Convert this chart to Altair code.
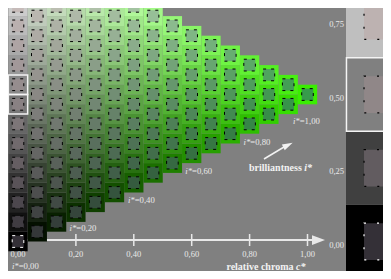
import altair as alt
import pandas as pd

# ---------------- data ----------------
steps = list(range(16))            # chroma / whiteness steps (j/15, k/15)
tick_values = [0.2, 0.4, 0.6, 0.8, 1.0]
tick_labels = ["0,00", "0,20", "0,40", "0,60", "0,80", "1,00"]
tick_label_pos = [0.0, 0.2, 0.4, 0.6, 0.8, 1.0]
swatch_levels = [0.0, 0.25, 0.5, 0.75]
swatch_labels = ["0,00", "0,25", "0,50", "0,75"]
istar_values = ["=0,00", "=0,20", "=0,40", "=0,60", "=0,80", "=1,00"]
istar_c = [0.0024, 0.2014, 0.4031, 0.6010, 0.8024, 0.9731]
istar_L = [-0.0833, 0.0469, 0.1412, 0.2408, 0.3395, 0.4099]
outlined_rows = [7, 8]

# colours of the three corners (outer) and their inner sample colours
WHITE, BLACK, GREEN = (255, 255, 255), (0, 0, 0), (58, 238, 0)
IN_WHITE, IN_BLACK, IN_GREEN = (235, 222, 218), (52, 48, 55), (55, 155, 75)


def mix(w, c, n, W, G, B):
    rgb = [max(0, min(255, round(w * W[i] + c * G[i] + n * B[i]))) for i in range(3)]
    return "#%02x%02x%02x" % tuple(rgb)


cells = []
for j in steps:
    for k in steps[: 16 - j]:
        c = j / 15
        w = k / 15
        n = max(0.0, 1 - c - w)
        L = w + c / 2
        cells.append(dict(
            c=c, L=L,
            c0=c - 1 / 30, c1=c + 1 / 30, L0=L - 1 / 30, L1=L + 1 / 30,
            ic0=c - 0.02, ic1=c + 0.02, iL0=L - 0.02, iL1=L + 0.02,
            outer=mix(w, c, n, WHITE, GREEN, BLACK),
            inner=mix(w, c, n, IN_WHITE, IN_GREEN, IN_BLACK),
            dash="white" if n >= 0.999 else "black",
        ))
cells = pd.DataFrame(cells)

sw = []
for lev, lab in zip(swatch_levels, swatch_labels):
    sw.append(dict(
        L=lev, lab=lab,
        c0=1.1330, c1=1.45, L0=lev - 0.125, L1=lev + 0.125,
        ic0=1.1952, ic1=1.45, iL0=lev - 0.0625, iL1=lev + 0.0625,
        outer=mix(lev, 0, 1 - lev, WHITE, GREEN, BLACK),
        inner=mix(lev, 0, 1 - lev, IN_WHITE, IN_GREEN, IN_BLACK),
        dash="white" if lev == 0 else "black",
    ))
sw = pd.DataFrame(sw)

# ---------------- scales ----------------
W_SVG, H_SVG = 375, 263
xs = alt.Scale(domain=[-10 / 289.5, (W_SVG - 10) / 289.5], nice=False, zero=False)
ys = alt.Scale(domain=[(233.5 - H_SVG) / 294, 233.5 / 294], nice=False, zero=False)


def X(f):
    return alt.X(f, type="quantitative", scale=xs, axis=None)


def Y(f):
    return alt.Y(f, type="quantitative", scale=ys, axis=None)


SERIF = "Liberation Serif"
TXT = "#e8e8e8"

# axis line, ticks, arrow head
axis_df = pd.DataFrame({"c0": [0.0], "c1": [1.03], "L": [0.005]})
axis_line = alt.Chart(axis_df).mark_rule(color=TXT, strokeWidth=2).encode(
    x=X("c0"), x2=alt.X2("c1"), y=Y("L"))
ticks_df = pd.DataFrame({"c": tick_values, "L0": [-0.0153] * 5, "L1": [0.0255] * 5})
ticks = alt.Chart(ticks_df).mark_rule(color=TXT, strokeWidth=1.5).encode(
    x=X("c"), y=Y("L0"), y2=alt.Y2("L1"))
head_df = pd.DataFrame({"c": [1.038], "L": [0.005]})
head = alt.Chart(head_df).mark_point(
    shape="M -1 -0.75 L 1 0 L -1 0.75 Z", filled=True, size=169, color=TXT, opacity=1
).encode(x=X("c"), y=Y("L"))

# cells
outer = alt.Chart(cells).mark_rect(clip=True).encode(
    x=X("c0"), x2=alt.X2("c1"), y=Y("L0"), y2=alt.Y2("L1"),
    color=alt.Color("outer:N", scale=None))
inner = alt.Chart(cells).mark_rect(clip=True, strokeWidth=1, strokeDash=[3, 5]).encode(
    x=X("ic0"), x2=alt.X2("ic1"), y=Y("iL0"), y2=alt.Y2("iL1"),
    color=alt.Color("inner:N", scale=None),
    stroke=alt.Stroke("dash:N", scale=None))

outl_df = pd.DataFrame({"c0": [-1 / 30] * 2, "c1": [1 / 30] * 2,
                        "L0": [r / 15 - 1 / 30 for r in outlined_rows],
                        "L1": [r / 15 + 1 / 30 for r in outlined_rows]})
outl = alt.Chart(outl_df).mark_rect(fill=None, stroke="#f4f4f4", strokeWidth=1.5, clip=True).encode(
    x=X("c0"), x2=alt.X2("c1"), y=Y("L0"), y2=alt.Y2("L1"))

# swatches at the right
sw_outer = alt.Chart(sw).mark_rect(clip=True).encode(
    x=X("c0"), x2=alt.X2("c1"), y=Y("L0"), y2=alt.Y2("L1"),
    color=alt.Color("outer:N", scale=None))
sw_inner = alt.Chart(sw).mark_rect(clip=True, strokeWidth=1.2, strokeDash=[2, 11]).encode(
    x=X("ic0"), x2=alt.X2("ic1"), y=Y("iL0"), y2=alt.Y2("iL1"),
    color=alt.Color("inner:N", scale=None),
    stroke=alt.Stroke("dash:N", scale=None))
sw_box_df = pd.DataFrame({"c0": [1.1346], "c1": [1.45], "L0": [0.375], "L1": [0.625]})
sw_box = alt.Chart(sw_box_df).mark_rect(fill=None, stroke="#f4f4f4", strokeWidth=1.5, clip=True).encode(
    x=X("c0"), x2=alt.X2("c1"), y=Y("L0"), y2=alt.Y2("L1"))
sw_text = alt.Chart(sw).mark_text(align="right", baseline="middle", dy=3, font=SERIF,
                                  fontSize=8.5, color=TXT).encode(
    x=alt.value(336), y=Y("L"), text="lab:N")

# tick labels
tl_df = pd.DataFrame({"c": tick_label_pos, "lab": tick_labels, "L": [-0.0442] * 6})
tick_text = alt.Chart(tl_df).mark_text(align="center", baseline="middle", font=SERIF,
                                       fontSize=8.5, color=TXT).encode(
    x=X("c"), y=Y("L"), text="lab:N")

# i* labels
ist_df = pd.DataFrame({"c": istar_c, "L": istar_L, "v": istar_values, "i": ["i*"] * 6})
ist_i = alt.Chart(ist_df).mark_text(align="right", baseline="middle", font=SERIF, fontSize=8.7,
                                    fontStyle="italic", color=TXT).encode(
    x=X("c"), y=Y("L"), text="i:N")
ist_v = alt.Chart(ist_df).mark_text(align="left", baseline="middle", font=SERIF, fontSize=8.7,
                                    color=TXT).encode(
    x=X("c"), y=Y("L"), text="v:N")

# axis titles
t_df = pd.DataFrame({
    "c": [0.9516, 0.9603, 0.9803, 0.9888],
    "L": [-0.0860, -0.0860, 0.2500, 0.2500],
    "t": ["relative chroma", "c*", "brilliantness", "i*"],
    "a": ["right", "left", "right", "left"],
})
titles_r = alt.Chart(t_df[t_df.a == "right"]).mark_text(
    align="right", baseline="middle", font=SERIF, fontSize=10, fontWeight="bold", color="#f2f2f2"
).encode(x=X("c"), y=Y("L"), text="t:N")
titles_l = alt.Chart(t_df[t_df.a == "left"]).mark_text(
    align="left", baseline="middle", font=SERIF, fontSize=10, fontWeight="bold",
    fontStyle="italic", color="#f2f2f2"
).encode(x=X("c"), y=Y("L"), text="t:N")

# brilliantness arrow
arr_df = pd.DataFrame({"c0": [0.8497], "L0": [0.2806], "c1": [0.9188], "L1": [0.3214]})
arr_line = alt.Chart(arr_df).mark_rule(color="#f2f2f2", strokeWidth=1.5).encode(
    x=X("c0"), y=Y("L0"), x2=alt.X2("c1"), y2=alt.Y2("L1"))
arr_head_df = pd.DataFrame({"c": [0.9326], "L": [0.3282]})
arr_head = alt.Chart(arr_head_df).mark_point(
    shape="M -1 -0.6 L 1 0 L -1 0.6 Z", filled=True, size=110, color="#f2f2f2", opacity=1,
    angle=333
).encode(x=X("c"), y=Y("L"))

chart = alt.layer(
    axis_line, ticks, head,
    outer, inner, outl,
    sw_outer, sw_inner, sw_box, sw_text,
    tick_text, ist_i, ist_v, titles_r, titles_l, arr_line, arr_head,
).properties(
    width=W_SVG, height=H_SVG, background="#808080", padding=0,
    autosize=alt.AutoSizeParams(type="none"),
).configure_view(stroke=None)

chart.save("out.html", embed_options={"renderer": "svg", "actions": False})
